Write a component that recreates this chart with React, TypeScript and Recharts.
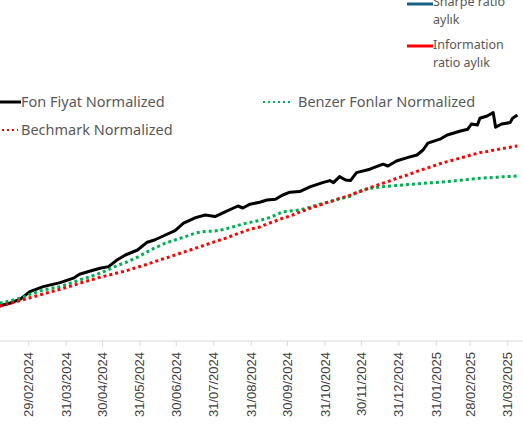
import React from "react";
import { LineChart, Line, XAxis, YAxis } from "recharts";

const DATES = [
  "2024-02-05", "2024-02-14", "2024-02-22", "2024-03-01", "2024-03-12", "2024-03-26", "2024-04-06", "2024-04-11", "2024-04-20", "2024-04-28",
  "2024-05-05", "2024-05-12", "2024-05-19", "2024-05-29", "2024-06-06", "2024-06-12", "2024-06-21", "2024-06-29", "2024-07-06", "2024-07-16",
  "2024-07-24", "2024-08-01", "2024-08-08", "2024-08-20", "2024-08-24", "2024-08-30", "2024-09-07", "2024-09-13", "2024-09-20", "2024-09-26",
  "2024-10-02", "2024-10-10", "2024-10-19", "2024-10-29", "2024-11-04", "2024-11-07", "2024-11-12", "2024-11-17", "2024-11-21", "2024-11-26",
  "2024-12-07", "2024-12-18", "2024-12-22", "2024-12-29", "2025-01-07", "2025-01-15", "2025-01-20", "2025-01-24", "2025-02-03", "2025-02-09",
  "2025-02-20", "2025-02-26", "2025-03-01", "2025-03-06", "2025-03-08", "2025-03-14", "2025-03-19", "2025-03-21", "2025-03-26", "2025-04-02",
  "2025-04-04", "2025-04-08",
];

const FON_FIYAT = [
  1.0, 1.015, 1.034, 1.072, 1.097, 1.117, 1.139, 1.159, 1.175, 1.189,
  1.197, 1.23, 1.255, 1.28, 1.319, 1.33, 1.355, 1.377, 1.414, 1.442,
  1.455, 1.447, 1.467, 1.5, 1.49, 1.509, 1.519, 1.53, 1.534, 1.555,
  1.569, 1.572, 1.597, 1.617, 1.627, 1.617, 1.647, 1.63, 1.627, 1.667,
  1.684, 1.709, 1.7, 1.725, 1.742, 1.755, 1.78, 1.814, 1.834, 1.855,
  1.875, 1.884, 1.91, 1.905, 1.939, 1.95, 1.967, 1.894, 1.91, 1.917,
  1.939, 1.955,
];

const BENZER_FONLAR = [
  1.014, 1.026, 1.039, 1.058, 1.08, 1.097, 1.119, 1.13, 1.147, 1.164,
  1.182, 1.202, 1.217, 1.244, 1.271, 1.29, 1.314, 1.33, 1.344, 1.365,
  1.373, 1.375, 1.382, 1.403, 1.41, 1.418, 1.428, 1.438, 1.454, 1.471,
  1.475, 1.48, 1.495, 1.513, 1.522, 1.526, 1.536, 1.543, 1.55, 1.567,
  1.588, 1.597, 1.599, 1.603, 1.607, 1.611, 1.614, 1.615, 1.619, 1.622,
  1.629, 1.633, 1.635, 1.637, 1.639, 1.641, 1.643, 1.643, 1.646, 1.648,
  1.649, 1.65,
];

const BECHMARK = [
  1.0, 1.014, 1.027, 1.041, 1.06, 1.084, 1.103, 1.114, 1.129, 1.144,
  1.154, 1.165, 1.175, 1.194, 1.209, 1.222, 1.239, 1.255, 1.269, 1.289,
  1.305, 1.322, 1.335, 1.362, 1.371, 1.384, 1.395, 1.41, 1.425, 1.439,
  1.45, 1.469, 1.489, 1.51, 1.522, 1.527, 1.538, 1.546, 1.554, 1.567,
  1.591, 1.614, 1.622, 1.638, 1.655, 1.673, 1.683, 1.691, 1.711, 1.722,
  1.74, 1.75, 1.756, 1.763, 1.767, 1.773, 1.779, 1.78, 1.787, 1.794,
  1.797, 1.8,
];

const TICK_DATES = [
  "2024-02-29", "2024-03-31", "2024-04-30", "2024-05-31", "2024-06-30", "2024-07-31", "2024-08-31",
  "2024-09-30", "2024-10-31", "2024-11-30", "2024-12-31", "2025-01-31", "2025-02-28", "2025-03-31",
];

const DAY = 86400000;
const ticks = TICK_DATES.map((d) => Date.parse(d));
const data = DATES.map((d, i) => ({
  t: Date.parse(d),
  fon: FON_FIYAT[i],
  benzer: BENZER_FONLAR[i],
  bench: BECHMARK[i],
}));

const pad = (n: number) => String(n).padStart(2, "0");
const fmtDate = (t: number) => {
  const d = new Date(t);
  return `${pad(d.getUTCDate())}/${pad(d.getUTCMonth() + 1)}/${d.getUTCFullYear()}`;
};

const DateTick = ({ x, y, payload }: any) => (
  <g transform={`translate(${x},${y})`}>
    <text
      transform="rotate(-90)"
      x={-6}
      y={0}
      textAnchor="end"
      dominantBaseline="central"
      fill="#404040"
      fontSize={13}
      fontFamily="'Liberation Sans', Arial, sans-serif"
    >
      {fmtDate(payload.value)}
    </text>
  </g>
);

const legendFont = "'Noto Sans', sans-serif";

const Sample = ({ color, dashed, width }: { color: string; dashed?: boolean; width: number }) => (
  <svg width={width} height={4} style={{ display: "block" }}>
    <line
      x1={0}
      y1={2}
      x2={width}
      y2={2}
      stroke={color}
      strokeWidth={dashed ? 2 : 3}
      strokeDasharray={dashed ? "2 3" : undefined}
    />
  </svg>
);

const App = () => {
  return (
    <div
      style={{
        position: "absolute",
        left: 0,
        top: 0,
        width: 523,
        height: 424,
        overflow: "hidden",
        background: "#fff",
      }}
    >
      <LineChart width={523} height={424} data={data} margin={{ top: 0, right: 0, bottom: 0, left: 0 }}>
        <XAxis
          dataKey="t"
          type="number"
          scale="time"
          domain={[ticks[0] - 23.73 * DAY, ticks[ticks.length - 1] + 12.65 * DAY]}
          ticks={ticks}
          interval={0}
          height={83}
          tick={<DateTick />}
          tickSize={5}
          tickMargin={0}
          axisLine={{ stroke: "#d9d9d9" }}
          tickLine={{ stroke: "#d9d9d9" }}
          allowDataOverflow
        />
        <YAxis hide domain={[0.825, 2.53]} allowDataOverflow />
        <Line type="linear" dataKey="fon" stroke="#000000" strokeWidth={3} dot={false} strokeLinejoin="round" isAnimationActive={false} />
        <Line type="linear" dataKey="benzer" stroke="#00b050" strokeWidth={3} strokeDasharray="3 3" dot={false} isAnimationActive={false} />
        <Line type="linear" dataKey="bench" stroke="#ff0000" strokeWidth={3} strokeDasharray="3 3" dot={false} isAnimationActive={false} />
      </LineChart>

      {/* top-right legend (ratio chart) */}
      <div style={{ position: "absolute", left: 407, top: 1.5 }}>
        <Sample color="#156082" width={26} />
      </div>
      <div style={{ position: "absolute", left: 433, top: -7, fontFamily: legendFont, fontSize: 12.5, lineHeight: "18px", color: "#595959" }}>
        Sharpe ratio
        <br />
        aylık
      </div>
      <div style={{ position: "absolute", left: 407, top: 44 }}>
        <Sample color="#ff0000" width={26} />
      </div>
      <div style={{ position: "absolute", left: 433, top: 35.5, fontFamily: legendFont, fontSize: 12.5, lineHeight: "18px", color: "#595959" }}>
        Information
        <br />
        ratio aylık
      </div>

      {/* main legend */}
      <div style={{ position: "absolute", left: 0, top: 100 }}>
        <Sample color="#000000" width={21} />
      </div>
      <div style={{ position: "absolute", left: 21, top: 92, fontFamily: legendFont, fontSize: 14.5, lineHeight: "18px", color: "#595959", whiteSpace: "nowrap" }}>
        Fon Fiyat Normalized
      </div>
      <div style={{ position: "absolute", left: 263, top: 99.5 }}>
        <Sample color="#00b050" dashed width={30} />
      </div>
      <div style={{ position: "absolute", left: 298, top: 92, fontFamily: legendFont, fontSize: 14.5, lineHeight: "18px", color: "#595959", whiteSpace: "nowrap" }}>
        Benzer Fonlar Normalized
      </div>
      <div style={{ position: "absolute", left: 2, top: 127.5 }}>
        <Sample color="#ff0000" dashed width={16} />
      </div>
      <div style={{ position: "absolute", left: 21, top: 119.5, fontFamily: legendFont, fontSize: 14.5, lineHeight: "18px", color: "#595959", whiteSpace: "nowrap" }}>
        Bechmark Normalized
      </div>
    </div>
  );
};

export default App;
